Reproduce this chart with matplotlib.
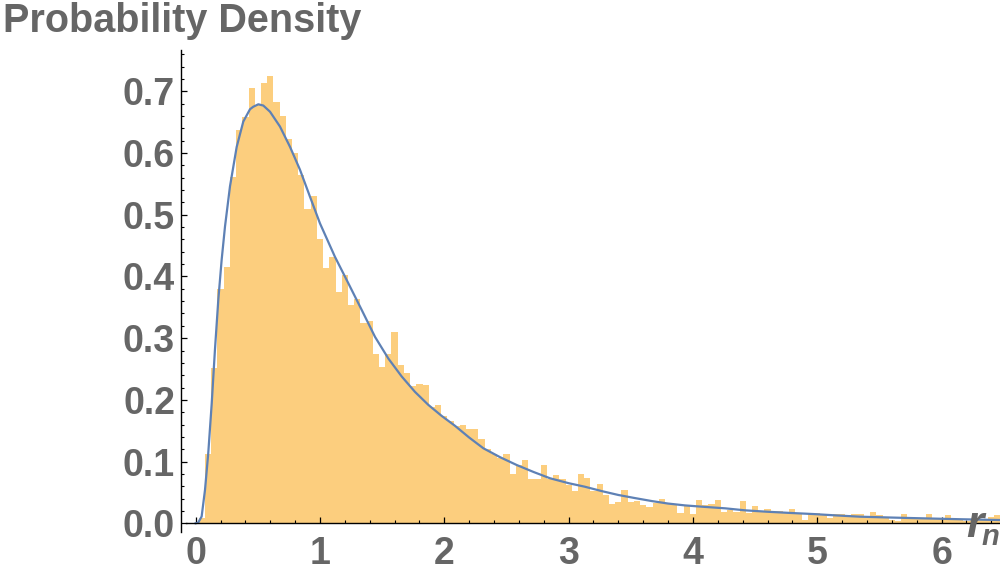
import matplotlib
matplotlib.use('Agg')
import matplotlib.pyplot as plt
from matplotlib.ticker import MultipleLocator, FormatStrFormatter
import numpy as np

# histogram bars (width 0.05, centres 0.05 ... 6.45)
bin_width = 0.05
hist_heights = [
    0.009, 0.113, 0.252, 0.380, 0.415, 0.561, 0.637, 0.658, 0.706, 0.678,
    0.714, 0.725, 0.682, 0.660, 0.623, 0.600, 0.565, 0.510, 0.530, 0.461,
    0.413, 0.432, 0.375, 0.402, 0.354, 0.364, 0.324, 0.328, 0.275, 0.254,
    0.275, 0.310, 0.257, 0.244, 0.2225, 0.226, 0.224, 0.189, 0.191, 0.174,
    0.166, 0.157, 0.159, 0.153, 0.153, 0.137, 0.120, 0.112, 0.106, 0.113,
    0.080, 0.095, 0.103, 0.072, 0.072, 0.0945, 0.072, 0.079, 0.072, 0.062,
    0.052, 0.080, 0.073, 0.053, 0.064, 0.046, 0.031, 0.0345, 0.054, 0.0345,
    0.036, 0.030, 0.026, 0.033, 0.039, 0.033, 0.031, 0.017, 0.028, 0.015,
    0.038, 0.030, 0.031, 0.038, 0.018, 0.0216, 0.019, 0.036, 0.017, 0.028,
    0.020, 0.023, 0.020, 0.020, 0.017, 0.023, 0.017, 0.005, 0.017, 0.017,
    0.0135, 0.009, 0.015, 0.015, 0.0135, 0.015, 0.015, 0.012, 0.018, 0.0135,
    0.0086, 0.0053, 0.003, 0.015, 0.010, 0.0086, 0.0086, 0.015, 0.0083, 0.0083,
    0.0135, 0.007, 0.0053, 0.0037, 0.006, 0.006, 0.006, 0.011, 0.0135,
]
hist_centers = bin_width * np.arange(1, len(hist_heights) + 1)

# fitted density curve
curve_r = [0.0, 0.02, 0.048, 0.075, 0.101, 0.129, 0.155, 0.182, 0.209, 0.236,
           0.276, 0.33, 0.383, 0.437, 0.463, 0.504, 0.544, 0.598, 0.678, 0.759,
           0.839, 0.92, 1.0, 1.12, 1.228, 1.335, 1.443, 1.55, 1.657, 1.764,
           1.871, 1.979, 2.086, 2.2, 2.314, 2.45, 2.582, 2.72, 2.85, 3.0,
           3.13, 3.27, 3.40, 3.53, 3.67, 3.8, 3.936, 4.1, 4.258, 4.42,
           4.593, 4.78, 4.969, 5.15, 5.344, 5.6, 5.84, 6.15, 6.47]
curve_p = [0.0, 0.001, 0.011, 0.054, 0.113, 0.194, 0.281, 0.362, 0.427, 0.481,
           0.546, 0.610, 0.651, 0.671, 0.675, 0.679, 0.677, 0.667, 0.643, 0.610,
           0.573, 0.529, 0.486, 0.432, 0.389, 0.346, 0.302, 0.267, 0.238, 0.213,
           0.192, 0.174, 0.158, 0.139, 0.1216, 0.107, 0.0945, 0.083, 0.073, 0.065,
           0.0593, 0.052, 0.0459, 0.041, 0.036, 0.032, 0.029, 0.0265, 0.0243, 0.021,
           0.0188, 0.0168, 0.015, 0.0128, 0.0107, 0.0093, 0.0081, 0.0066, 0.0053]

label_color = '#666666'
font = 'Liberation Sans'

fig = plt.figure(figsize=(10, 5.73), dpi=100)
ax = fig.add_axes([0.181, 41 / 573, 0.819, 482 / 573])

ax.bar(hist_centers, hist_heights, width=bin_width, color='#FCCE7E', linewidth=0)
ax.plot(curve_r, curve_p, color='#5E81B5', lw=1.6)

ax.set_xlim(-0.118, 6.47)
ax.set_ylim(-0.0141, 0.767)

for s in ['top', 'right']:
    ax.spines[s].set_visible(False)
ax.spines['bottom'].set_position(('data', 0))
ax.spines['bottom'].set_bounds(-0.08, 6.47)
ax.spines['left'].set_linewidth(1.0)
ax.spines['bottom'].set_linewidth(1.0)

ax.xaxis.set_major_locator(MultipleLocator(1))
ax.xaxis.set_minor_locator(MultipleLocator(0.2))
ax.yaxis.set_major_locator(MultipleLocator(0.1))
ax.yaxis.set_minor_locator(MultipleLocator(0.02))
ax.yaxis.set_major_formatter(FormatStrFormatter('%.1f'))
ax.xaxis.set_major_formatter(FormatStrFormatter('%d'))

ax.tick_params(axis='both', which='major', direction='in', length=4.5, width=0.9,
               labelsize=27, labelcolor=label_color)
ax.tick_params(axis='both', which='minor', direction='in', length=2.5, width=0.8)
ax.tick_params(axis='x', which='major', pad=9)
ax.tick_params(axis='y', which='major', pad=4.3)
for lab in ax.get_xticklabels() + ax.get_yticklabels():
    lab.set_fontfamily(font)
    lab.set_fontweight('bold')

fig.text(0.003, 1 - 32 / 573, 'Probability Density', fontsize=28.5, fontweight='bold',
         family=font, color=label_color, va='baseline', ha='left')
fig.text(966 / 1000, 1 - 537 / 573, 'r', fontsize=32, fontweight='bold', style='italic',
         family=font, color=label_color, va='baseline', ha='left')
fig.text(982 / 1000, 1 - 545 / 573, 'n', fontsize=21, fontweight='bold', style='italic',
         family=font, color=label_color, va='baseline', ha='left')

fig.savefig('out.png', dpi=100)
